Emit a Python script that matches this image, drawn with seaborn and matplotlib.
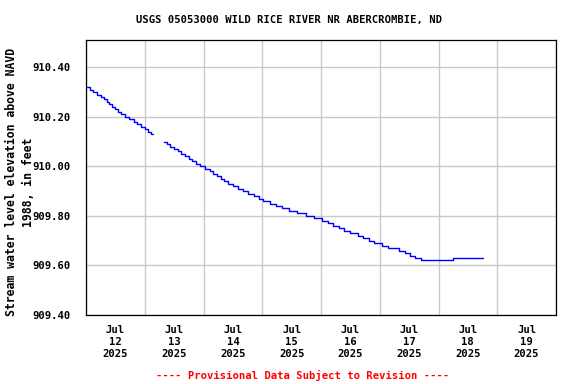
import matplotlib
matplotlib.use("Agg")
import matplotlib.pyplot as plt
import matplotlib.dates as mdates
import pandas as pd
import seaborn as sns

# gage height readings, hours after 2025-07-12 00:00 (value holds until next reading)
seg1_hours = [0.0, 1.5, 3.0, 4.5, 6.0, 7.5, 8.5, 9.5, 10.8, 11.8, 13.0, 14.5,
              16.0, 17.5, 19.5, 21.0, 22.5, 24.0, 25.5, 26.5, 27.5]
seg1_levels = [910.32, 910.31, 910.30, 910.29, 910.28, 910.27, 910.26, 910.25,
               910.24, 910.23, 910.22, 910.21, 910.20, 910.19, 910.18, 910.17,
               910.16, 910.15, 910.14, 910.13, 910.13]

seg2_hours = [31.9, 33.0, 34.5, 36.0, 37.5, 39.0, 40.5, 42.0, 43.5, 45.0, 46.5,
              48.5, 50.5, 52.0, 53.5, 55.0, 56.5, 58.0, 60.0, 62.0, 64.0, 66.0,
              68.5, 70.5, 72.5, 75.0, 77.5, 80.0, 83.0, 86.0, 90.0, 93.0, 96.5,
              99.0, 101.0, 103.5, 105.5, 108.0, 111.0, 113.0, 115.5, 117.5, 121.0,
              123.5, 128.0, 130.5, 132.5, 134.5, 137.0, 150.0, 162.3]
seg2_levels = [910.10, 910.09, 910.08, 910.07, 910.06, 910.05, 910.04, 910.03,
               910.02, 910.01, 910.00, 909.99, 909.98, 909.97, 909.96, 909.95,
               909.94, 909.93, 909.92, 909.91, 909.90, 909.89, 909.88, 909.87,
               909.86, 909.85, 909.84, 909.83, 909.82, 909.81, 909.80, 909.79,
               909.78, 909.77, 909.76, 909.75, 909.74, 909.73, 909.72, 909.71,
               909.70, 909.69, 909.68, 909.67, 909.66, 909.65, 909.64, 909.63,
               909.62, 909.63, 909.63]

y_ticks = [909.40, 909.60, 909.80, 910.00, 910.20, 910.40]
start = pd.Timestamp("2025-07-12")

df = pd.concat([
    pd.DataFrame({"hours": seg1_hours, "level": seg1_levels, "seg": 1}),
    pd.DataFrame({"hours": seg2_hours, "level": seg2_levels, "seg": 2}),
])
df["time"] = start + pd.to_timedelta(df["hours"], unit="h")

sns.set_style("white")
plt.rcParams["font.family"] = ["DejaVu Sans Mono"]
plt.rcParams["font.weight"] = "bold"
plt.rcParams["text.color"] = "black"
plt.rcParams["xtick.color"] = "black"
plt.rcParams["ytick.color"] = "black"

fig = plt.figure(figsize=(5.76, 3.84), dpi=100)
ax = fig.add_axes([86 / 576, 1 - 315 / 384, 470 / 576, 275 / 384])

sns.lineplot(data=df, x="time", y="level", units="seg", estimator=None,
             color="#0000ff", linewidth=1.0, drawstyle="steps-post", ax=ax)

ax.set_xlim(start, start + pd.Timedelta(days=8))
ax.set_ylim(909.40, 910.51)

ax.set_yticks(y_ticks)
ax.set_yticklabels([f"{v:.2f}" for v in y_ticks])
ax.xaxis.set_major_locator(mdates.DayLocator())
ax.xaxis.set_major_formatter(plt.NullFormatter())
ax.xaxis.set_minor_locator(mdates.HourLocator(byhour=12))
ax.xaxis.set_minor_formatter(mdates.DateFormatter("%b\n%d\n%Y"))

ax.grid(True, which="major", color="#c8c8c8", linewidth=1.0)
ax.tick_params(axis="y", length=0, pad=11, labelsize=7.6, labelcolor="black")
ax.tick_params(axis="x", which="both", length=0, pad=7, labelsize=7.6,
               labelcolor="black")
for lab in ax.xaxis.get_minorticklabels():
    lab.set_linespacing(1.25)
for s in ax.spines.values():
    s.set_color("black")
    s.set_linewidth(0.9)

ax.set_xlabel("")
ax.set_ylabel("")

fig.text(289 / 576, 1 - 20 / 384, "USGS 05053000 WILD RICE RIVER NR ABERCROMBIE, ND",
         ha="center", va="center", fontsize=7.6, fontweight="bold", color="black")
fig.text(20 / 576, 1 - 182 / 384,
         "Stream water level elevation above NAVD\n1988, in feet",
         rotation=90, ha="center", va="center", fontsize=8.3, color="black",
         fontweight="bold", multialignment="center", linespacing=1.3)
fig.text(303 / 576, 1 - 375 / 384, "---- Provisional Data Subject to Revision ----",
         ha="center", va="center", fontsize=7.6, fontweight="bold", color="red")

fig.savefig("out.png", dpi=100)
